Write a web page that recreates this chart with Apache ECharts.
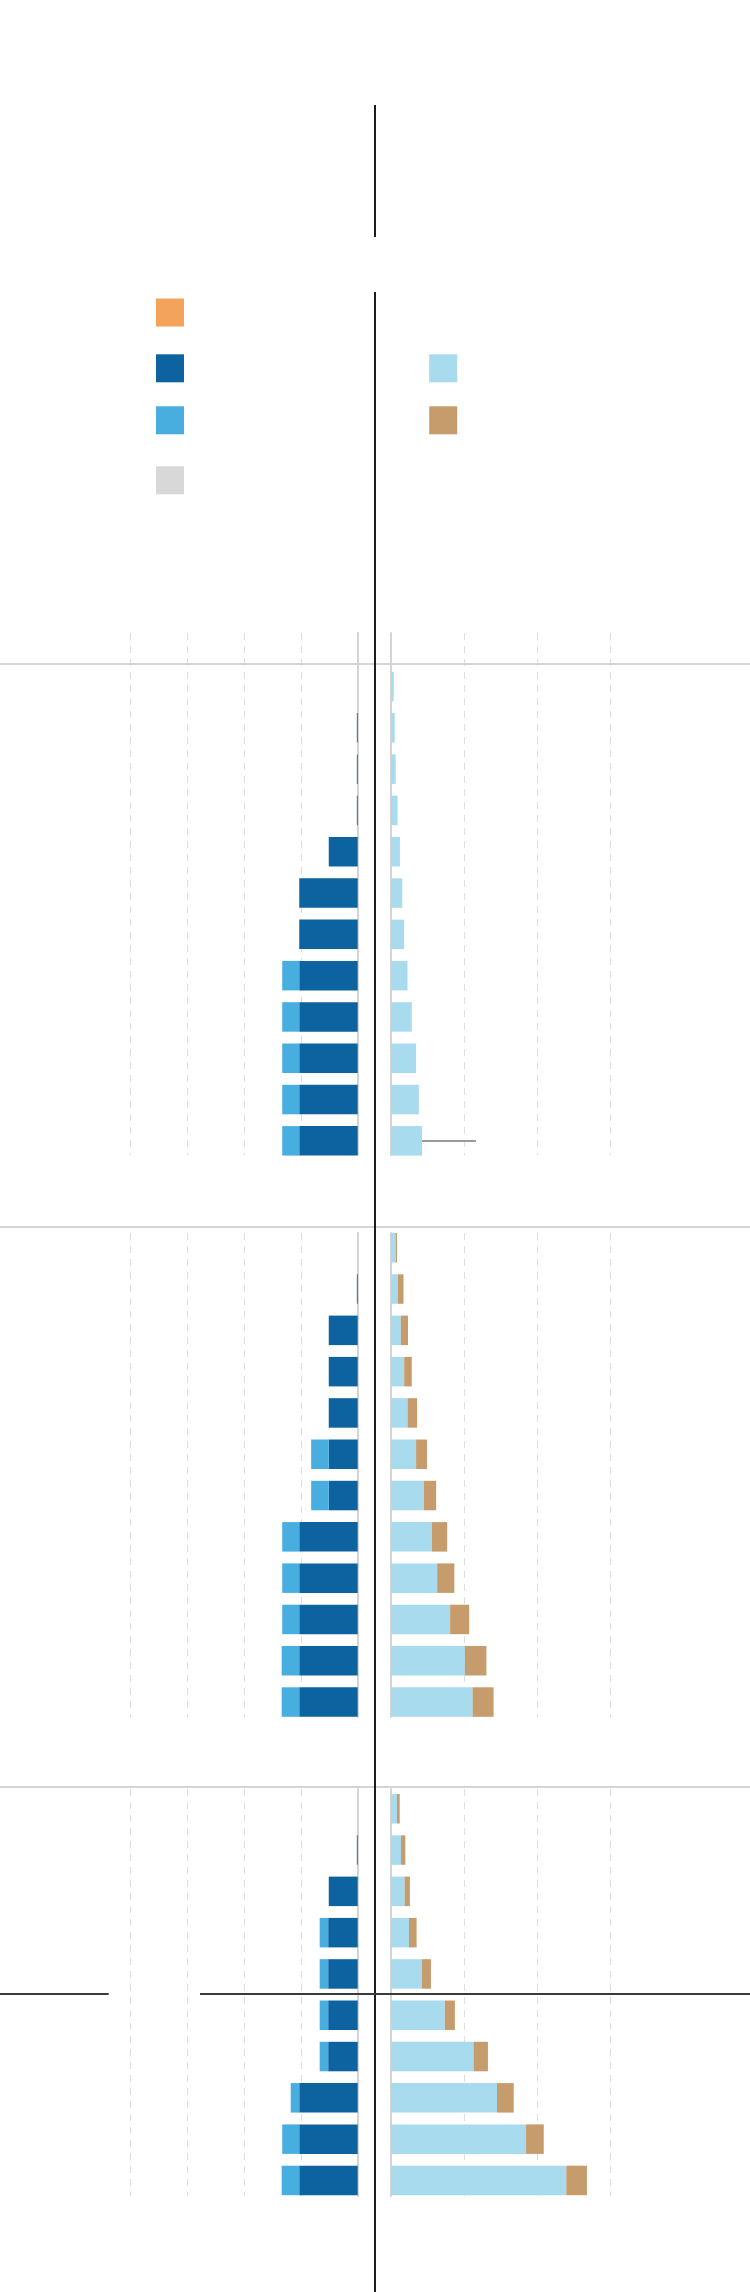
<!DOCTYPE html>
<html><head><meta charset="utf-8">
<script src="https://cdn.jsdelivr.net/npm/echarts@6/dist/echarts.min.js"></script>
<style>html,body{margin:0;padding:0;background:#fff}#c{width:750px;height:2292px}</style>
</head><body><div id="c"></div>
<script>
// ---- data ----
const rows12 = ['1','2','3','4','5','6','7','8','9','10','11','12'];
const rows10 = ['1','2','3','4','5','6','7','8','9','10'];

// left side (stacked outward from the centre)
const p1Dark  = [0, 0.15, 0.15, 0.15, 5.1, 10.3, 10.3, 10.3, 10.3, 10.3, 10.3, 10.3];
const p1Light = [0, 0, 0, 0, 0, 0, 0, 3.0, 3.0, 3.0, 3.0, 3.0];
const p2Dark  = [0, 0.15, 5.1, 5.1, 5.1, 5.1, 5.1, 10.3, 10.3, 10.3, 10.3, 10.3];
const p2Light = [0, 0, 0, 0, 0, 3.1, 3.1, 3.0, 3.0, 3.0, 3.1, 3.1];
const p3Dark  = [0, 0.15, 5.1, 5.2, 5.2, 5.2, 5.2, 10.3, 10.3, 10.3];
const p3Light = [0, 0, 0, 1.5, 1.5, 1.5, 1.5, 1.5, 3.0, 3.1];

// right side
const p1Cyan = [0.37, 0.51, 0.64, 0.89, 1.22, 1.54, 1.80, 2.26, 2.84, 3.43, 3.80, 4.24];
const p1Tan  = [0, 0, 0, 0, 0, 0, 0, 0, 0, 0, 0, 0];
const p2Cyan = [0.64, 0.94, 1.34, 1.80, 2.26, 3.43, 4.48, 5.59, 6.31, 8.08, 10.10, 11.15];
const p2Tan  = [0.18, 0.77, 0.98, 1.04, 1.31, 1.50, 1.69, 2.09, 2.35, 2.61, 2.94, 2.87];
const p3Cyan = [0.82, 1.37, 1.86, 2.46, 4.22, 7.35, 11.28, 14.49, 18.46, 23.96];
const p3Tan  = [0.37, 0.59, 0.72, 1.04, 1.24, 1.38, 1.97, 2.28, 2.42, 2.82];

// annotation leader (panel 1, last row)
const p1Leader = [4.24, 11.6];

const leftTicks = [0, 10, 20, 30, 40];
const rightTicks = [0, 10, 20, 30];

// ---- styles ----
const C = {orange:'#f4a35b', dark:'#0d62a0', light:'#48aee0', gray:'#d8d8d8', cyan:'#a8dbed', tan:'#c69c6c'};
const N = {orange:'Orange', dark:'Dark blue', light:'Light blue', gray:'Gray', cyan:'Cyan', tan:'Tan'};
const LEFT = {left: 130.7, width: 227};
const RIGHT = {left: 391, width: 219.5};
const PITCH = 41.3, BARW = 29.5;

const panels = [
  {cats: rows12, barTop: 671.8, bgTop: 633, bgBot: 1155, dark: p1Dark, light: p1Light, cyan: p1Cyan, tan: p1Tan, leader: p1Leader},
  {cats: rows12, barTop: 1233, bgTop: 1233, bgBot: 1717, dark: p2Dark, light: p2Light, cyan: p2Cyan, tan: p2Tan},
  {cats: rows10, barTop: 1794, bgTop: 1789, bgBot: 2196, dark: p3Dark, light: p3Light, cyan: p3Cyan, tan: p3Tan}
];

const grid = [], xAxis = [], yAxis = [], series = [];
const hidden = {axisLine:{show:false}, axisTick:{show:false}, axisLabel:{show:false}, splitLine:{show:false}};

panels.forEach((p, i) => {
  const gTop = p.barTop - (PITCH - BARW) / 2;
  const gH = PITCH * p.cats.length;
  [['L', LEFT, leftTicks], ['R', RIGHT, rightTicks]].forEach(([side, pos, ticks]) => {
    const isL = side === 'L';
    // background grid with dashed gridlines and zero line
    const bg = grid.length;
    grid.push({left: pos.left, width: pos.width, top: p.bgTop, height: p.bgBot - p.bgTop});
    xAxis.push({gridIndex: bg, type:'value', min: ticks[0], max: ticks[ticks.length-1], interval: ticks[1]-ticks[0],
      inverse: isL, axisLine:{show:false}, axisTick:{show:false}, axisLabel:{show:false},
      splitLine:{show:true, lineStyle:{color:'#dedede', width:1, type:[7,6]}}});
    yAxis.push({gridIndex: bg, type:'value', min:0, max:1, position: isL ? 'right' : 'left',
      axisLine:{show:true, onZero:false, lineStyle:{color:'#d4d4d4', width:2}},
      axisTick:{show:false}, axisLabel:{show:false}, splitLine:{show:false}});
    // bar grid
    const bi = grid.length;
    grid.push({left: pos.left, width: pos.width, top: gTop, height: gH});
    xAxis.push(Object.assign({gridIndex: bi, type:'value', min: ticks[0], max: ticks[ticks.length-1], inverse: isL}, hidden));
    yAxis.push(Object.assign({gridIndex: bi, type:'category', data: p.cats, inverse: true}, hidden));
    const mk = (key, data, extra) => Object.assign({
      name: N[key], type:'bar', xAxisIndex: bi, yAxisIndex: bi, stack: side + i, data,
      barWidth: BARW, itemStyle:{color: C[key]}, silent: true, animation: false, z: 3
    }, extra || {});
    if (isL) {
      series.push(mk('dark', p.dark));
      series.push(mk('light', p.light));
      if (i === 0) {
        series.push(mk('orange', []));
        series.push(mk('gray', []));
      }
    } else {
      const extra = p.leader ? {markLine:{silent:true, symbol:['none','none'], label:{show:false},
        lineStyle:{color:'#9a9a9a', width:2, type:'solid'},
        data:[[{coord:[p.leader[0], p.cats.length-1]}, {coord:[p.leader[1], p.cats.length-1]}]]}} : {};
      series.push(mk('cyan', p.cyan, extra));
      series.push(mk('tan', p.tan));
    }
  });
});

const legBase = {orient:'vertical', padding:0, itemWidth:28, itemHeight:28, icon:'rect', selectedMode:false,
  formatter: () => '', textStyle:{fontSize:12}};
const legend = [
  Object.assign({data:[N.orange], left:156, top:298.5}, legBase),
  Object.assign({data:[N.dark], left:156, top:354.3}, legBase),
  Object.assign({data:[N.light], left:156, top:406.3}, legBase),
  Object.assign({data:[N.gray], left:156, top:466.3}, legBase),
  Object.assign({data:[N.cyan], left:429.2, top:354.3}, legBase),
  Object.assign({data:[N.tan], left:429.2, top:406.3}, legBase)
];

const line = (x1, y1, x2, y2, color, z) => ({type:'line', silent:true, z: z,
  shape:{x1, y1, x2, y2}, style:{stroke: color, lineWidth: 2}});
const graphic = [
  line(0, 664, 750, 664, '#d4d4d4', 5),
  line(0, 1227, 750, 1227, '#d4d4d4', 5),
  line(0, 1787, 750, 1787, '#d4d4d4', 5),
  line(375, 105, 375, 237, '#1c1c1c', 20),
  line(375, 292, 375, 2292, '#1c1c1c', 20),
  line(0, 1994, 108.7, 1994, '#3a3a3a', 20),
  line(200, 1994, 750, 1994, '#3a3a3a', 20)
];

const chart = echarts.init(document.getElementById('c'), null, {renderer:'canvas'});
chart.setOption({animation:false, backgroundColor:'#fff', grid, xAxis, yAxis, series, legend, graphic});
</script>
</body></html>
